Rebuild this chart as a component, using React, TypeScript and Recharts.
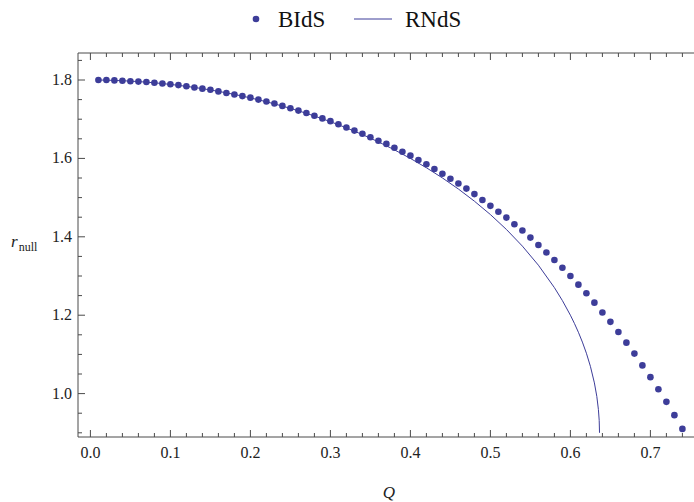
import { ComposedChart, Scatter, Line, XAxis, YAxis } from "recharts";

// BIdS null radius, one point per 0.01 in Q
const bidsQ = [
  0.01, 0.02, 0.03, 0.04, 0.05, 0.06, 0.07, 0.08, 0.09, 0.1, 0.11, 0.12, 0.13,
  0.14, 0.15, 0.16, 0.17, 0.18, 0.19, 0.2, 0.21, 0.22, 0.23, 0.24, 0.25, 0.26,
  0.27, 0.28, 0.29, 0.3, 0.31, 0.32, 0.33, 0.34, 0.35, 0.36, 0.37, 0.38, 0.39,
  0.4, 0.41, 0.42, 0.43, 0.44, 0.45, 0.46, 0.47, 0.48, 0.49, 0.5, 0.51, 0.52,
  0.53, 0.54, 0.55, 0.56, 0.57, 0.58, 0.59, 0.6, 0.61, 0.62, 0.63, 0.64, 0.65,
  0.66, 0.67, 0.68, 0.69, 0.7, 0.71, 0.72, 0.73, 0.74,
];
const bidsR = [
  1.8, 1.8, 1.799, 1.798, 1.797, 1.796, 1.795, 1.793, 1.791, 1.789, 1.787,
  1.784, 1.781, 1.778, 1.775, 1.771, 1.767, 1.763, 1.759, 1.755, 1.75, 1.745,
  1.74, 1.734, 1.728, 1.722, 1.716, 1.709, 1.702, 1.695, 1.687, 1.679, 1.671,
  1.663, 1.654, 1.645, 1.637, 1.627, 1.617, 1.607, 1.596, 1.585, 1.573, 1.561,
  1.548, 1.536, 1.523, 1.509, 1.494, 1.479, 1.464, 1.449, 1.432, 1.416, 1.398,
  1.379, 1.36, 1.341, 1.321, 1.3, 1.278, 1.256, 1.232, 1.207, 1.183, 1.157,
  1.13, 1.102, 1.072, 1.042, 1.011, 0.979, 0.945, 0.91,
];

// RNdS curve, ends where the branch closes
const rndsQ = [
  0.01, 0.02, 0.04, 0.06, 0.08, 0.1, 0.12, 0.14, 0.16, 0.18, 0.2, 0.22, 0.24,
  0.26, 0.28, 0.3, 0.32, 0.34, 0.36, 0.38, 0.4, 0.42, 0.44, 0.46, 0.48, 0.5,
  0.52, 0.54, 0.56, 0.58, 0.59, 0.6, 0.605, 0.61, 0.615, 0.62, 0.625, 0.63,
  0.633, 0.635, 0.636, 0.6364,
];
const rndsR = [
  1.8, 1.7996, 1.7982, 1.796, 1.7929, 1.7888, 1.7839, 1.778, 1.7711, 1.7633,
  1.7544, 1.7445, 1.7335, 1.7215, 1.7082, 1.6937, 1.6779, 1.6608, 1.6422,
  1.6219, 1.6, 1.5762, 1.5502, 1.5219, 1.4909, 1.4568, 1.4188, 1.3762, 1.3276,
  1.2704, 1.2373, 1.2, 1.1792, 1.1565, 1.1314, 1.103, 1.0696, 1.0273, 0.9929,
  0.9596, 0.9318, 0.9,
];

const xMajor = [0, 0.1, 0.2, 0.3, 0.4, 0.5, 0.6, 0.7];
const xMinor = [
  0.02, 0.04, 0.06, 0.08, 0.12, 0.14, 0.16, 0.18, 0.22, 0.24, 0.26, 0.28, 0.32,
  0.34, 0.36, 0.38, 0.42, 0.44, 0.46, 0.48, 0.52, 0.54, 0.56, 0.58, 0.62, 0.64,
  0.66, 0.68, 0.72, 0.74,
];
const yMajor = [1.0, 1.2, 1.4, 1.6, 1.8];
const yMinor = [
  0.9, 0.95, 1.05, 1.1, 1.15, 1.25, 1.3, 1.35, 1.45, 1.5, 1.55, 1.65, 1.7, 1.75,
  1.85,
];

const seriesNames = ["BIdS", "RNdS"];

const bidsData = bidsQ.map((q, i) => ({ q, r: bidsR[i] }));
const rndsData = rndsQ.map((q, i) => ({ q, r: rndsR[i] }));

const COLOR = "#3d3d99";
const FRAME = "#4a4a4a";
const FONT = "Liberation Serif, Times New Roman, serif";

const isMajor = (v: number, majors: number[]) =>
  majors.some((m) => Math.abs(m - v) < 1e-6);

function BottomTick({ x, y, payload }: any) {
  const major = isMajor(payload.value, xMajor);
  return (
    <g>
      <line x1={x} y1={y} x2={x} y2={y - (major ? 7 : 4)} stroke={FRAME} />
      {major && (
        <text
          x={x}
          y={y + 21}
          textAnchor="middle"
          style={{ fontFamily: FONT, fontSize: 16 }}
          fill="#222"
        >
          {payload.value.toFixed(1)}
        </text>
      )}
    </g>
  );
}

function TopTick({ x, y, payload }: any) {
  const major = isMajor(payload.value, xMajor);
  return <line x1={x} y1={y} x2={x} y2={y + (major ? 7 : 4)} stroke={FRAME} />;
}

function LeftTick({ x, y, payload }: any) {
  const major = isMajor(payload.value, yMajor);
  return (
    <g>
      <line x1={x} y1={y} x2={x + (major ? 7 : 4)} y2={y} stroke={FRAME} />
      {major && (
        <text
          x={x - 6}
          y={y + 5}
          textAnchor="end"
          style={{ fontFamily: FONT, fontSize: 16 }}
          fill="#222"
        >
          {payload.value.toFixed(1)}
        </text>
      )}
    </g>
  );
}

function Legend() {
  return (
    <svg
      width={694}
      height={40}
      style={{ position: "absolute", left: 0, top: 0, fontFamily: FONT }}
    >
      <circle cx={256} cy={19} r={3.3} fill={COLOR} />
      <text x={278} y={27} style={{ fontFamily: FONT, fontSize: 23 }} fill="#111">
        {seriesNames[0]}
      </text>
      <line x1={354} y1={19} x2={392} y2={19} stroke={COLOR} strokeWidth={1} />
      <text x={405} y={27} style={{ fontFamily: FONT, fontSize: 23 }} fill="#111">
        {seriesNames[1]}
      </text>
    </svg>
  );
}

export default function App() {
  return (
    <div
      style={{
        position: "absolute",
        left: 0,
        top: 0,
        width: 694,
        height: 502,
        background: "#fff",
        fontFamily: FONT,
      }}
    >
      <ComposedChart
        width={694}
        height={502}
        margin={{ top: 52, right: 0, bottom: 64, left: 77 }}
        style={{ fontFamily: FONT }}
      >
        <XAxis
          xAxisId="b"
          type="number"
          dataKey="q"
          orientation="bottom"
          domain={[-0.0155, 0.7545]}
          allowDataOverflow
          ticks={[...xMajor, ...xMinor]}
          interval={0}
          height={1}
          tickSize={0}
          tickMargin={0}
          tickLine={false}
          axisLine={{ stroke: FRAME }}
          tick={<BottomTick />}
          label={(props: any) => {
            const vb = props.viewBox || {};
            return (
              <text
                x={389}
                y={(vb.y ?? 437) + 61}
                textAnchor="middle"
                style={{ fontFamily: FONT, fontSize: 17, fontStyle: "italic" }}
                fill="#222"
              >
                Q
              </text>
            );
          }}
        />
        <XAxis
          xAxisId="t"
          type="number"
          dataKey="q"
          orientation="top"
          domain={[-0.0155, 0.7545]}
          allowDataOverflow
          ticks={[...xMajor, ...xMinor]}
          interval={0}
          height={1}
          tickSize={0}
          tickMargin={0}
          tickLine={false}
          axisLine={{ stroke: FRAME }}
          tick={<TopTick />}
        />
        <YAxis
          yAxisId="l"
          type="number"
          dataKey="r"
          domain={[0.8893, 1.8689]}
          allowDataOverflow
          ticks={[...yMajor, ...yMinor]}
          interval={0}
          width={1}
          tickSize={0}
          tickMargin={0}
          tickLine={false}
          axisLine={{ stroke: FRAME }}
          tick={<LeftTick />}
          label={(props: any) => {
            const vb = props.viewBox || {};
            const cy = (vb.y ?? 53) + (vb.height ?? 384) / 2;
            return (
              <text x={11} y={cy + 2} style={{ fontFamily: FONT }} fill="#222">
                <tspan style={{ fontSize: 17, fontStyle: "italic" }}>r</tspan>
                <tspan style={{ fontSize: 12 }} dx={1} dy={4}>
                  null
                </tspan>
              </text>
            );
          }}
        />
        <Line
          xAxisId="b"
          yAxisId="l"
          data={rndsData}
          dataKey="r"
          type="linear"
          stroke={COLOR}
          strokeWidth={1}
          dot={false}
          activeDot={false}
          isAnimationActive={false}
          name={seriesNames[1]}
        />
        <Scatter
          xAxisId="b"
          yAxisId="l"
          data={bidsData}
          dataKey="r"
          fill={COLOR}
          shape={(p: any) => <circle cx={p.cx} cy={p.cy} r={3.3} fill={COLOR} />}
          isAnimationActive={false}
          name={seriesNames[0]}
        />
      </ComposedChart>
      <Legend />
    </div>
  );
}
